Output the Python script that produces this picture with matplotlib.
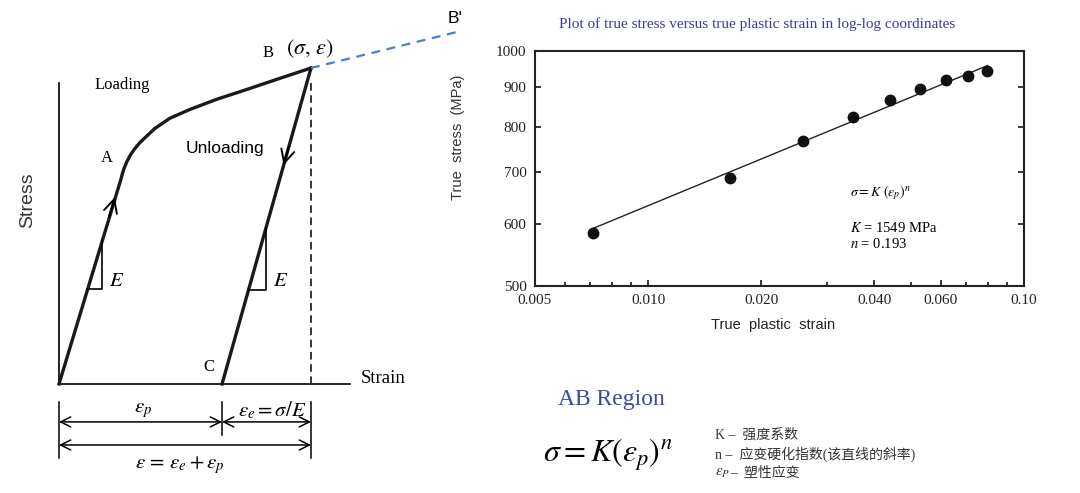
import matplotlib
matplotlib.use("Agg")
import matplotlib.pyplot as plt
from matplotlib.ticker import NullFormatter

plt.rcParams['mathtext.fontset'] = 'stix'

# schematic stress-strain curve (normalised: point B = (1, 1))
loading_strain = [0, 0.245, 0.251, 0.259, 0.270, 0.285, 0.302, 0.320, 0.342, 0.381, 0.440, 0.520, 0.626, 0.745, 0.864, 1.0]
loading_stress = [0, 0.646, 0.664, 0.684, 0.705, 0.727, 0.746, 0.763, 0.780, 0.809, 0.841, 0.869, 0.901, 0.932, 0.964, 1.0]
unload_strain = [1.0, 0.647]
unload_stress = [1.0, 0.0]
extrap_strain = [1.0, 1.579]
extrap_stress = [1.0, 1.114]

# log-log test data
plastic_strain = [0.00714, 0.0165, 0.0258, 0.0350, 0.0440, 0.0528, 0.0620, 0.0710, 0.0798]
true_stress = [585, 688, 766, 824, 866, 893, 917, 930, 943]
fit_strain = [0.0071, 0.080]
fit_stress = [592, 958]
x_ticks = [0.005, 0.01, 0.02, 0.04, 0.06, 0.1]
x_labels = ['0.005', '0.010', '0.020', '0.040', '0.060', '0.10']
x_minor = [0.006, 0.007, 0.008, 0.009, 0.03, 0.05, 0.07, 0.08, 0.09]
y_ticks = [500, 600, 700, 800, 900, 1000]

W, H = 1080, 493
fig = plt.figure(figsize=(W / 100, H / 100), dpi=100)


def fx(px):
    return px / W


def fy(py):
    return 1 - py / H


# ---- left schematic ----
ax = fig.add_axes([0, 0, 470 / W, 1])
ax.set_xlim(-59 / 252, (470 - 59) / 252)
ax.set_ylim((384 - 493) / 316, 384 / 316)
ax.axis('off')

ax.plot([0, 0], [0, 0.953], color='k', lw=1.2)
ax.plot([0, 1.155], [0, 0], color='k', lw=1.2)
ax.plot(loading_strain, loading_stress, color='#1a1a1a', lw=2.4, solid_joinstyle='round')
ax.plot(unload_strain, unload_stress, color='#1a1a1a', lw=2.4)
ax.plot([1.0, 1.0], [0, 0.953], color='k', lw=1.1, ls=(0, (5, 3)))
ax.plot(extrap_strain, extrap_stress, color='#4a7ecb', lw=1.6, ls=(0, (4, 3)), clip_on=False)

# direction arrows
ax.annotate('', xy=(0.225, 0.600), xytext=(0.195, 0.52),
            arrowprops=dict(arrowstyle='->', lw=1.4, color='k', mutation_scale=24))
ax.annotate('', xy=(0.888, 0.684), xytext=(0.915, 0.76),
            arrowprops=dict(arrowstyle='->', lw=1.4, color='k', mutation_scale=24))

# slope triangles
ax.plot([0.113, 0.171, 0.171], [0.301, 0.301, 0.455], color='k', lw=1.2)
ax.plot([0.752, 0.821, 0.821], [0.297, 0.297, 0.493], color='k', lw=1.2)
ax.text(0.230, 0.329, '$E$', fontsize=15, ha='center', va='center')
ax.text(0.881, 0.329, '$E$', fontsize=15, ha='center', va='center')

# dimension lines
for xv, yb in [(0, -0.234), (0.647, -0.161), (1.0, -0.234)]:
    ax.plot([xv, xv], [-0.057, yb], color='k', lw=1.1, clip_on=False)
dim = dict(arrowstyle='<->', lw=1.1, color='k', mutation_scale=18, shrinkA=0, shrinkB=0)
ax.annotate('', xy=(0, -0.120), xytext=(0.647, -0.120), arrowprops=dim)
ax.annotate('', xy=(0.647, -0.120), xytext=(1.0, -0.120), arrowprops=dim)
ax.annotate('', xy=(0, -0.193), xytext=(1.0, -0.193), arrowprops=dim)
ax.text(0.333, -0.082, r'$\varepsilon_p$', fontsize=15, ha='center', va='center')
ax.text(0.845, -0.082, r'$\varepsilon_e=\sigma/E$', fontsize=15, ha='center', va='center')
ax.text(0.480, -0.256, r'$\varepsilon\,=\,\varepsilon_e+\varepsilon_p$', fontsize=15, ha='center', va='center')

serif = 'Liberation Serif'
ax.text(0.250, 0.946, 'Loading', fontsize=12, family=serif, ha='center', va='center')
ax.text(0.190, 0.715, 'A', fontsize=12, family=serif, ha='center', va='center')
ax.text(0.659, 0.744, 'Unloading', fontsize=12.5, family='Liberation Sans', ha='center', va='center')
ax.text(0.829, 1.047, 'B', fontsize=12, family=serif, ha='center', va='center')
ax.text(0.996, 1.060, r'$(\sigma,\,\varepsilon)$', fontsize=16, ha='center', va='center')
ax.text(0.595, 0.054, 'C', fontsize=12, family=serif, ha='center', va='center')
ax.text(1.286, 0.016, 'Strain', fontsize=13.5, family=serif, ha='center', va='center')
ax.text(-0.123, 0.582, 'Stress', fontsize=14, family='Liberation Sans', color='#333333',
        rotation=90, ha='center', va='center')
ax.text(1.571, 1.158, "B'", fontsize=12.5, family='Liberation Sans', ha='center', va='center')

# ---- right log-log plot ----
ax2 = fig.add_axes([535 / W, 1 - 286 / H, 489 / W, 235 / H])
ax2.set_xscale('log')
ax2.set_yscale('log')
ax2.plot(fit_strain, fit_stress, color='#222222', lw=1.0)
ax2.plot(plastic_strain, true_stress, 'o', color='#111111', ms=7.5)
ax2.set_xlim(0.005, 0.1)
ax2.set_ylim(500, 1000)
ax2.set_xticks(x_ticks, x_labels)
ax2.set_xticks(x_minor, minor=True)
ax2.xaxis.set_minor_formatter(NullFormatter())
ax2.set_yticks(y_ticks, [str(v) for v in y_ticks])
ax2.set_yticks([], minor=True)
ax2.yaxis.set_minor_formatter(NullFormatter())
ax2.tick_params(which='both', direction='in', top=False, right=True, length=4, width=1.1, pad=6)
ax2.tick_params(which='minor', length=3)
for lab in ax2.get_xticklabels() + ax2.get_yticklabels():
    lab.set_family(serif)
    lab.set_fontsize(11)
    lab.set_color('#222222')
for sp in ax2.spines.values():
    sp.set_linewidth(1.5)
    sp.set_color('#222222')

fig.text(fx(850), fy(193), r'$\sigma = K\ (\varepsilon_p)^n$', fontsize=10, va='center')
fig.text(fx(850), fy(228), '$K$ = 1549 MPa', fontsize=10.5, family=serif, va='center')
fig.text(fx(850), fy(244), '$n$ = 0.193', fontsize=10.5, family=serif, va='center')

fig.text(fx(757), fy(24), 'Plot of true stress versus true plastic strain in log-log coordinates',
         fontsize=11, family=serif, color='#3b3ba0', ha='center', va='center')
fig.text(fx(458), fy(137), 'True  stress  (MPa)', fontsize=10.5, family='Liberation Sans',
         color='#333333', rotation=90, ha='center', va='center')
fig.text(fx(773), fy(325), 'True  plastic  strain', fontsize=10.5, family='Liberation Sans',
         color='#222222', ha='center', va='center')

# ---- bottom-right notes ----
fig.text(fx(611), fy(400), 'AB Region', fontsize=17, family=serif, color='#3d4aa0',
         ha='center', va='center')
fig.text(fx(543), fy(455), r'$\sigma = K\left(\varepsilon_p\right)^n$', fontsize=23, va='center')
cjk = [serif, 'Noto Sans CJK SC']
fig.text(fx(715), fy(435), 'K –  强度系数', fontsize=10, family=cjk, color='#333333', va='center')
fig.text(fx(715), fy(454), 'n –  应变硬化指数(该直线的斜率)', fontsize=10, family=cjk, color='#333333', va='center')
fig.text(fx(715), fy(473), r'$\varepsilon_P$', fontsize=11, color='#333333', va='center')
fig.text(fx(730), fy(473), '–  塑性应变', fontsize=10, family=cjk, color='#333333', va='center')

fig.savefig('out.png', dpi=100)
